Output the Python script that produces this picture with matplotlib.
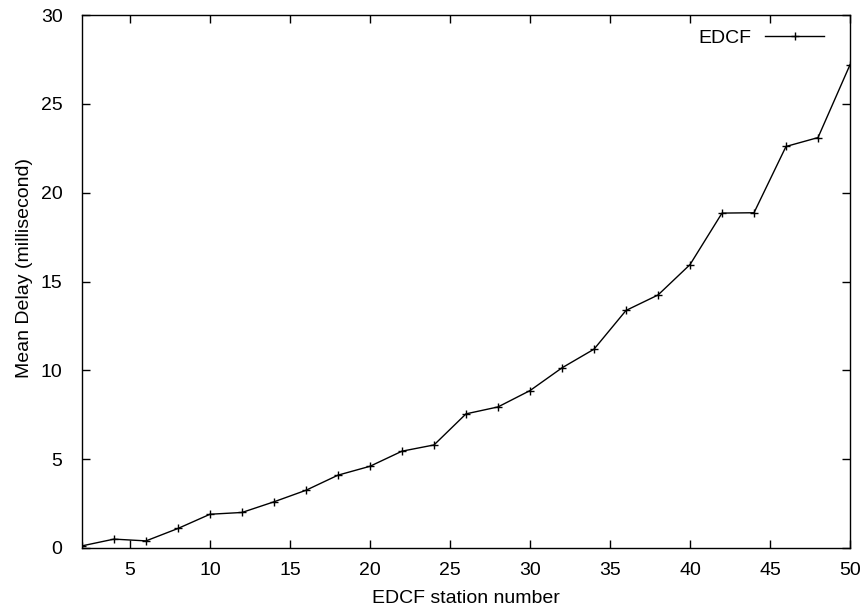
import matplotlib
matplotlib.use("Agg")
import matplotlib.pyplot as plt

stations = [2, 4, 6, 8, 10, 12, 14, 16, 18, 20, 22, 24, 26,
            28, 30, 32, 34, 36, 38, 40, 42, 44, 46, 48, 50]
delay = [0.12, 0.5, 0.4, 1.1, 1.9, 2.0, 2.6, 3.25, 4.1, 4.6, 5.45, 5.8, 7.55,
         7.94, 8.86, 10.14, 11.19, 13.37, 14.24, 15.95, 18.85, 18.87, 22.6, 23.1, 27.2]
xticks = [5, 10, 15, 20, 25, 30, 35, 40, 45, 50]
yticks = [0, 5, 10, 15, 20, 25, 30]

plt.rcParams['font.family'] = ['Liberation Sans', 'DejaVu Sans']
fs = 14
fig = plt.figure(figsize=(8.64, 6.11), dpi=100)
ax = fig.add_axes([82/864, 1-548/611, (850-82)/864, (548-15)/611])
ax.plot(stations, delay, color='black', linewidth=1.0, marker='+',
        markersize=6, markeredgewidth=1.0, label='EDCF')
ax.set_xlim(2, 50)
ax.set_ylim(0, 30)
ax.set_xticks(xticks)
ax.set_yticks(yticks)
ax.tick_params(axis='both', direction='in', length=6, width=1, top=True, right=True,
               labelsize=fs)
ax.tick_params(axis='x', pad=10)
ax.tick_params(axis='y', pad=14)
for s in ax.spines.values():
    s.set_linewidth(1.0)
ax.set_xlabel('EDCF station number', fontsize=fs, labelpad=8)
ax.set_ylabel('Mean Delay (millisecond)', fontsize=fs)
ax.yaxis.set_label_coords(-(82-33)/768, 0.525)
leg = ax.legend(loc='upper right', bbox_to_anchor=(0.976, 0.988), frameon=False,
                fontsize=fs, markerfirst=False, handlelength=3.0,
                handletextpad=0.72, borderaxespad=0.0)
fig.savefig('out.png', dpi=100)
